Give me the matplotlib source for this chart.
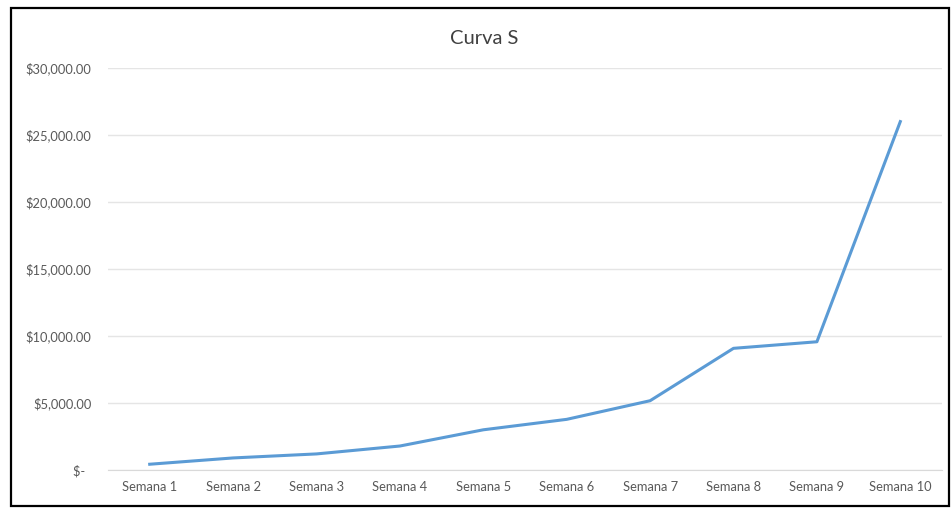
import matplotlib.pyplot as plt
from matplotlib.patches import Rectangle
from matplotlib.ticker import FuncFormatter

# Data
semanas = ['Semana 1', 'Semana 2', 'Semana 3', 'Semana 4', 'Semana 5',
           'Semana 6', 'Semana 7', 'Semana 8', 'Semana 9', 'Semana 10']
costo = [430, 900, 1200, 1790, 3000, 3780, 5170, 9080, 9570, 26000]
yticks = [0, 5000, 10000, 15000, 20000, 25000, 30000]

plt.rcParams['font.family'] = ['Lato', 'DejaVu Sans']

fig = plt.figure(figsize=(9.51, 5.08), dpi=100)
ax = fig.add_axes([108/951, 1 - 470/508, (942 - 108)/951, (470 - 68)/508])

ax.plot(range(len(semanas)), costo, color='#5B9BD5', linewidth=2.2,
        solid_joinstyle='round')

ax.set_xlim(-0.5, len(semanas) - 0.5)
ax.set_ylim(0, 30000)
ax.set_yticks(yticks)
ax.set_xticks(range(len(semanas)))
ax.set_xticklabels(semanas)

def fmt(v, pos):
    if v == 0:
        return '$-  '
    return '${:,.2f}'.format(v)

ax.yaxis.set_major_formatter(FuncFormatter(fmt))
ax.grid(axis='y', color='#E5E5E5', linewidth=1)
ax.set_axisbelow(True)
for s in ['top', 'right', 'left']:
    ax.spines[s].set_visible(False)
ax.spines['bottom'].set_color('#D9D9D9')
ax.tick_params(axis='both', length=0, labelsize=9.3, colors='#595959')
ax.tick_params(axis='x', pad=8)
ax.tick_params(axis='y', pad=12)

fig.text(484/951, 1 - 38/508, 'Curva S', ha='center', va='center',
         fontsize=14.5, color='#404040')

# border around the chart
fig.patches.append(Rectangle((11/951, 2/508), 938/951, 498/508,
                             transform=fig.transFigure, fill=False,
                             edgecolor='black', linewidth=1.6))

plt.savefig('out.png', dpi=100)
